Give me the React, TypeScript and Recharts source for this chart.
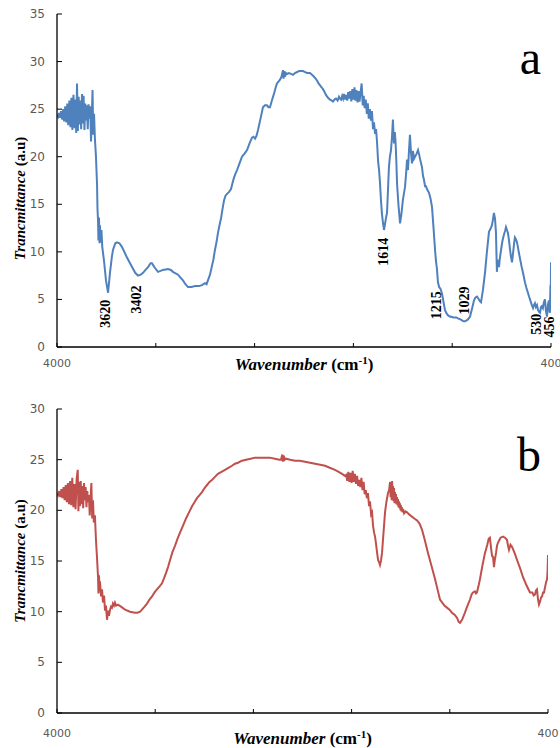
import React from 'react';
import { LineChart, Line, XAxis, YAxis, ReferenceDot } from 'recharts';

// FTIR spectra, [wavenumber, transmittance]
const spectrumA: [number, number][] = [
  [4000, 24.4], [3992, 24.2], [3985, 24.6], [3978, 24.1], [3970, 24.8], [3962, 23.9], [3955, 25.0], [3948, 23.7],
  [3940, 25.3], [3932, 23.6], [3925, 25.6], [3918, 23.3], [3910, 25.9], [3902, 23.1], [3895, 26.2], [3888, 22.8],
  [3880, 26.5], [3872, 23.0], [3865, 26.0], [3860, 22.5], [3854, 27.7], [3848, 22.7], [3842, 26.3], [3836, 23.4],
  [3830, 25.9], [3824, 22.9], [3818, 26.6], [3812, 23.5], [3806, 26.4], [3800, 22.8], [3794, 25.6], [3788, 23.8],
  [3782, 25.4], [3776, 22.9], [3770, 25.5], [3764, 24.0], [3758, 25.3], [3752, 21.6], [3746, 24.6], [3741, 27.0],
  [3736, 22.3], [3730, 24.5], [3724, 22.0], [3716, 20.0], [3708, 17.0], [3705, 14.5], [3701, 13.3], [3698, 11.2],
  [3694, 13.6], [3690, 10.9], [3687, 12.8], [3682, 11.0], [3676, 12.3], [3670, 10.5], [3657, 9.0], [3643, 7.0],
  [3628, 5.7], [3614, 7.8], [3600, 9.5], [3592, 10.2], [3575, 10.9], [3563, 11.0], [3545, 10.9], [3526, 10.5],
  [3490, 9.4], [3453, 8.4], [3430, 7.8], [3410, 7.5], [3390, 7.6], [3373, 7.8], [3355, 8.1], [3337, 8.4],
  [3318, 8.8], [3308, 8.8], [3295, 8.5], [3286, 8.3], [3264, 7.9], [3245, 8.0], [3228, 8.1], [3191, 8.2],
  [3170, 8.1], [3155, 7.9], [3118, 7.6], [3100, 7.3], [3082, 7.0], [3064, 6.6], [3045, 6.3], [3020, 6.3],
  [2994, 6.4], [2965, 6.4], [2943, 6.5], [2922, 6.7], [2910, 6.6], [2900, 7.0], [2885, 7.6], [2871, 8.5],
  [2860, 9.2], [2849, 10.2], [2838, 11.0], [2827, 12.0], [2816, 12.8], [2805, 13.5], [2794, 14.5], [2783, 15.4],
  [2772, 15.9], [2761, 16.1], [2746, 16.3], [2732, 16.6], [2720, 17.3], [2710, 17.8], [2700, 18.2], [2688, 18.6],
  [2670, 19.3], [2652, 20.0], [2635, 20.3], [2615, 20.7], [2597, 21.4], [2579, 22.0], [2568, 22.1], [2557, 21.9],
  [2546, 22.2], [2535, 22.8], [2517, 24.0], [2499, 25.2], [2485, 25.4], [2470, 25.4], [2459, 25.2], [2448, 25.2],
  [2434, 25.9], [2419, 26.6], [2408, 27.2], [2397, 27.7], [2386, 27.9], [2375, 28.1], [2364, 28.4], [2353, 29.1],
  [2349, 28.2], [2344, 29.0], [2338, 28.4], [2332, 28.8], [2324, 28.7], [2310, 28.8], [2295, 28.7], [2280, 28.6],
  [2266, 28.8], [2250, 28.9], [2237, 29.0], [2222, 29.0], [2207, 29.0], [2192, 28.9], [2178, 28.8], [2156, 28.8],
  [2140, 28.6], [2127, 28.4], [2115, 28.2], [2105, 28.0], [2094, 27.7], [2083, 27.5], [2072, 27.3], [2062, 27.1],
  [2050, 26.8], [2040, 26.5], [2025, 26.2], [2010, 26.0], [1998, 25.9], [1989, 25.8], [1978, 26.0], [1967, 26.1],
  [1955, 25.9], [1945, 26.3], [1938, 26.1], [1930, 26.0], [1922, 26.4], [1915, 26.1], [1908, 26.6], [1900, 26.0],
  [1892, 26.5], [1885, 25.9], [1878, 26.8], [1870, 26.1], [1862, 26.9], [1855, 25.8], [1848, 27.1], [1840, 26.0],
  [1832, 27.3], [1825, 25.9], [1818, 27.0], [1810, 25.7], [1802, 26.9], [1795, 25.8], [1788, 26.7], [1780, 27.7],
  [1772, 25.4], [1765, 26.4], [1758, 25.1], [1750, 26.0], [1742, 24.5], [1735, 25.6], [1728, 24.0], [1720, 25.0],
  [1712, 23.8], [1705, 24.8], [1697, 22.9], [1690, 23.6], [1682, 22.4], [1675, 22.9], [1668, 21.6], [1660, 19.5],
  [1653, 18.6], [1646, 17.2], [1639, 15.4], [1632, 14.0], [1624, 13.0], [1617, 12.3], [1610, 12.9], [1602, 13.6],
  [1595, 14.1], [1588, 16.5], [1581, 18.9], [1574, 20.0], [1566, 20.7], [1559, 22.0], [1552, 23.9], [1548, 22.4],
  [1544, 21.4], [1538, 22.6], [1533, 21.6], [1527, 19.5], [1522, 17.2], [1512, 15.0], [1500, 13.0], [1490, 14.0],
  [1479, 15.5], [1464, 16.8], [1455, 18.4], [1449, 19.7], [1442, 18.6], [1435, 20.6], [1428, 22.3], [1420, 20.4],
  [1413, 19.3], [1406, 20.6], [1398, 19.8], [1391, 20.0], [1380, 20.3], [1369, 20.7], [1362, 20.3], [1355, 19.8],
  [1340, 18.9], [1333, 18.0], [1326, 17.6], [1318, 16.9], [1311, 16.9], [1304, 16.6], [1289, 16.2], [1278, 15.6],
  [1267, 14.7], [1256, 12.5], [1245, 10.2], [1238, 9.0], [1231, 8.2], [1224, 6.8], [1215, 6.3], [1205, 6.1],
  [1194, 5.6], [1184, 4.8], [1173, 3.9], [1160, 3.5], [1148, 3.3], [1136, 3.2], [1110, 3.1], [1090, 3.1],
  [1078, 3.0], [1060, 2.9], [1049, 2.8], [1038, 2.7], [1027, 2.7], [1015, 2.8], [1005, 2.9], [990, 3.2],
  [976, 4.0], [961, 4.9], [950, 5.2], [939, 5.3], [930, 5.1], [925, 5.0], [917, 4.8], [910, 4.7],
  [896, 6.0], [881, 7.8], [867, 10.0], [852, 12.1], [842, 12.4], [830, 12.8], [822, 13.5], [816, 14.1],
  [808, 13.5], [801, 12.0], [797, 9.5], [794, 7.9], [790, 9.2], [787, 8.6], [783, 9.0], [779, 8.4],
  [773, 9.3], [768, 9.8], [757, 10.9], [750, 11.4], [743, 11.8], [735, 12.2], [728, 12.6], [721, 12.3],
  [714, 12.0], [706, 11.2], [699, 10.3], [692, 9.5], [684, 8.9], [674, 10.2], [668, 11.0], [663, 11.5],
  [655, 11.3], [648, 11.0], [641, 10.5], [634, 9.9], [626, 9.3], [615, 8.5], [604, 7.8], [597, 7.3],
  [590, 6.8], [579, 6.2], [568, 5.7], [560, 5.3], [553, 5.0], [542, 4.5], [531, 4.1], [524, 4.4],
  [517, 4.6], [510, 4.2], [502, 4.4], [495, 3.9], [487, 3.7], [480, 3.6], [473, 4.2], [466, 4.3],
  [459, 4.1], [452, 4.7], [444, 5.0], [437, 3.8], [429, 3.2], [422, 4.5], [415, 4.9], [411, 3.8],
  [408, 3.6], [404, 6.5], [402, 5.2], [400, 8.9],
];

const spectrumB: [number, number][] = [
  [4000, 21.7], [3992, 21.5], [3984, 21.9], [3976, 21.3], [3968, 22.1], [3960, 21.2], [3952, 22.3], [3944, 21.0],
  [3936, 22.5], [3928, 20.8], [3920, 22.7], [3912, 20.6], [3904, 22.9], [3896, 20.5], [3888, 23.2], [3880, 20.3],
  [3872, 22.6], [3864, 20.1], [3856, 23.1], [3848, 24.0], [3843, 19.9], [3838, 22.8], [3832, 20.4], [3826, 22.9],
  [3820, 20.6], [3814, 22.4], [3808, 20.2], [3802, 22.7], [3796, 21.0], [3790, 22.3], [3784, 20.3], [3778, 21.9],
  [3772, 20.8], [3766, 21.5], [3760, 19.5], [3754, 21.2], [3748, 22.7], [3742, 19.2], [3736, 21.0], [3730, 18.8],
  [3722, 19.5], [3714, 17.0], [3707, 15.4], [3699, 13.4], [3696, 11.8], [3692, 13.6], [3688, 12.0], [3685, 13.0],
  [3677, 11.5], [3670, 12.2], [3663, 10.9], [3655, 11.6], [3648, 10.1], [3641, 10.6], [3633, 9.2], [3626, 10.1],
  [3619, 9.6], [3611, 10.2], [3604, 10.5], [3597, 10.4], [3590, 10.8], [3582, 10.6], [3575, 10.9], [3567, 10.6],
  [3553, 10.7], [3531, 10.5], [3501, 10.2], [3465, 10.0], [3428, 9.9], [3410, 9.9], [3391, 10.0], [3377, 10.2],
  [3358, 10.5], [3340, 10.8], [3322, 11.2], [3303, 11.5], [3285, 11.9], [3267, 12.2], [3248, 12.5], [3230, 12.8],
  [3215, 13.3], [3201, 13.8], [3186, 14.4], [3171, 15.1], [3153, 15.9], [3135, 16.5], [3116, 17.2], [3098, 17.8],
  [3076, 18.5], [3054, 19.2], [3032, 19.8], [3010, 20.4], [2992, 20.8], [2974, 21.2], [2955, 21.5], [2937, 21.8],
  [2918, 22.2], [2900, 22.5], [2882, 22.8], [2864, 23.0], [2842, 23.3], [2820, 23.6], [2794, 23.8], [2768, 24.0],
  [2743, 24.2], [2717, 24.4], [2695, 24.6], [2673, 24.7], [2644, 24.9], [2614, 25.0], [2580, 25.1], [2548, 25.2],
  [2510, 25.2], [2475, 25.2], [2440, 25.2], [2402, 25.1], [2370, 25.0], [2358, 25.0], [2348, 25.5], [2343, 24.8],
  [2338, 25.4], [2330, 25.0], [2321, 25.1], [2290, 25.0], [2255, 24.9], [2220, 24.9], [2182, 24.8], [2145, 24.7],
  [2108, 24.6], [2070, 24.5], [2035, 24.4], [2000, 24.2], [1962, 24.0], [1935, 23.8], [1910, 23.6], [1888, 23.4],
  [1880, 23.5], [1872, 22.9], [1864, 23.8], [1856, 22.8], [1848, 23.7], [1840, 22.7], [1832, 23.9], [1824, 22.8],
  [1816, 23.6], [1808, 22.6], [1800, 23.4], [1792, 22.4], [1784, 23.0], [1776, 22.3], [1768, 23.2], [1760, 22.0],
  [1752, 22.8], [1744, 21.6], [1736, 22.0], [1728, 21.2], [1720, 21.7], [1712, 20.4], [1705, 20.9], [1697, 19.6],
  [1690, 19.8], [1683, 18.5], [1675, 17.8], [1668, 17.4], [1660, 16.6], [1653, 15.8], [1646, 15.1], [1639, 14.9],
  [1632, 14.6], [1625, 15.0], [1617, 15.8], [1606, 17.8], [1595, 19.8], [1584, 20.9], [1573, 21.7], [1565, 22.0],
  [1558, 22.8], [1554, 21.3], [1550, 22.6], [1546, 21.0], [1543, 22.9], [1539, 21.2], [1536, 22.4], [1532, 20.9],
  [1529, 22.2], [1525, 20.7], [1522, 21.8], [1518, 20.8], [1515, 21.6], [1511, 20.6], [1507, 21.3], [1503, 20.5],
  [1500, 21.1], [1496, 20.3], [1492, 20.9], [1488, 20.2], [1485, 20.7], [1481, 20.0], [1478, 20.5], [1474, 19.9],
  [1470, 20.3], [1466, 19.8], [1462, 20.1], [1455, 19.7], [1445, 19.9], [1434, 19.8], [1418, 19.6], [1400, 19.4],
  [1380, 19.2], [1360, 19.0], [1342, 18.7], [1324, 18.1], [1302, 17.0], [1280, 15.8], [1254, 14.5], [1228, 13.2],
  [1210, 12.2], [1192, 11.2], [1170, 10.8], [1160, 10.6], [1141, 10.4], [1122, 10.2], [1104, 9.9], [1085, 9.7],
  [1067, 9.4], [1055, 9.0], [1045, 8.9], [1030, 9.2], [1009, 9.9], [990, 10.6], [972, 11.2], [960, 11.7],
  [950, 11.9], [936, 12.0], [928, 11.8], [921, 11.9], [910, 12.5], [899, 13.2], [880, 14.6], [862, 15.8],
  [845, 16.6], [835, 17.2], [826, 17.3], [820, 16.6], [815, 16.0], [810, 15.5], [803, 15.4], [796, 14.4],
  [790, 15.1], [781, 15.8], [774, 16.5], [767, 16.8], [748, 17.3], [730, 17.4], [715, 17.3], [701, 17.1],
  [693, 16.5], [686, 16.1], [675, 16.6], [664, 16.4], [645, 15.8], [627, 15.1], [605, 14.3], [583, 13.4],
  [558, 12.6], [532, 11.9], [515, 11.9], [505, 11.6], [495, 11.7], [488, 12.1], [481, 12.2], [473, 11.2],
  [466, 10.7], [458, 11.0], [451, 11.4], [444, 11.5], [436, 11.9], [429, 11.9], [422, 12.4], [414, 12.9],
  [407, 13.2], [403, 14.0], [400, 15.6],
];

const xTicks = [4000, 3280, 2560, 1840, 1120, 400];
const xTickLabels = [4000, 400];
const yTicksA = [0, 5, 10, 15, 20, 25, 30, 35];
const yTicksB = [0, 5, 10, 15, 20, 25, 30];

// peak labels in panel a (where the rotated text sits)
const peakLabels = ['3620', '3402', '1614', '1215', '1029', '530', '456'];
const peakLabelX = [3643, 3417, 1620, 1231, 1030, 502, 408];
const peakLabelY = [3.5, 5.0, 10.0, 4.4, 4.9, 2.4, 2.1];

const toRows = (s: [number, number][]) => s.map(([w, v]) => ({ w, v }));

const tickFont = '"DejaVu Sans", Verdana, sans-serif';
const serif = '"Liberation Serif", "Times New Roman", serif';

type PanelProps = {
  data: { w: number; v: number }[];
  color: string;
  yMax: number;
  yTicks: number[];
  height: number;
  top: number;
  rightMargin: number;
  xAxisHeight: number;
  xLabelGap: number;
  xTitleGap: number;
  yTitleShift: number;
  letter: string;
  letterTop: number;
  peaks?: boolean;
};

const Panel = ({ data, color, yMax, yTicks, height, top, rightMargin, xAxisHeight, xLabelGap, xTitleGap, yTitleShift, letter, letterTop, peaks }: PanelProps) => {
  const xTick = (p: any) => (
    <g>
      <line x1={p.x} x2={p.x} y1={p.y} y2={p.y - 4} stroke="#000" strokeWidth={1} />
      {xTickLabels.includes(p.payload.value) && (
        <text x={p.x} y={p.y + xLabelGap} textAnchor="middle" dominantBaseline="central" fill="#595959" fontSize={11} fontFamily={tickFont}>
          {p.payload.value}
        </text>
      )}
    </g>
  );
  const yTick = (p: any) => (
    <g>
      <line x1={p.x + 12} x2={p.x + 17} y1={p.y} y2={p.y} stroke="#000" strokeWidth={1} />
      <text x={p.x} y={p.y} textAnchor="end" dominantBaseline="central" fill="#595959" fontSize={12} fontFamily={tickFont}>
        {p.payload.value}
      </text>
    </g>
  );
  const xTitle = (p: any) => {
    const vb = p.viewBox;
    return (
      <text x={vb.x + vb.width / 2} y={vb.y + xTitleGap} textAnchor="middle" fontFamily={serif} fontWeight="bold" fontSize={17} fill="#000">
        <tspan fontStyle="italic">Wavenumber</tspan>
        <tspan> (cm</tspan>
        <tspan dy={-6} fontSize={11}>-1</tspan>
        <tspan dy={6}>)</tspan>
      </text>
    );
  };
  const yTitle = (p: any) => {
    const vb = p.viewBox;
    const cx = 20;
    const cy = vb.y + vb.height / 2 + yTitleShift;
    return (
      <text x={cx} y={cy} transform={`rotate(-90 ${cx} ${cy})`} textAnchor="middle" dominantBaseline="central" fontFamily={serif} fontWeight="bold" fontSize={15} fill="#000">
        <tspan fontStyle="italic">Trancmittance</tspan>
        <tspan> (a.u)</tspan>
      </text>
    );
  };

  return (
    <div style={{ position: 'absolute', left: 0, top, width: 560, height }}>
      <LineChart width={560} height={height} data={data} margin={{ top: 14, right: rightMargin, left: 0, bottom: 0 }}>
        <XAxis
          dataKey="w"
          type="number"
          domain={[400, 4000]}
          reversed
          allowDataOverflow
          ticks={xTicks}
          interval={0}
          height={xAxisHeight}
          tickSize={0}
          tickMargin={0}
          tickLine={false}
          axisLine={{ stroke: '#000', strokeWidth: 1.3 }}
          tick={xTick}
          label={xTitle}
        />
        <YAxis
          type="number"
          domain={[0, yMax]}
          ticks={yTicks}
          interval={0}
          width={57}
          tickSize={0}
          tickMargin={12}
          tickLine={false}
          axisLine={{ stroke: '#000', strokeWidth: 1.3 }}
          tick={yTick}
          label={yTitle}
        />
        <Line dataKey="v" type="linear" stroke={color} strokeWidth={2} dot={false} activeDot={false} isAnimationActive={false} />
        {peaks &&
          peakLabels.map((lab, i) => (
            <ReferenceDot
              key={lab}
              x={peakLabelX[i]}
              y={peakLabelY[i]}
              r={0}
              ifOverflow="visible"
              shape={(p: any) => (
                <text x={p.cx} y={p.cy} transform={`rotate(-90 ${p.cx} ${p.cy})`} textAnchor="middle" dominantBaseline="central" fontFamily={serif} fontWeight="bold" fontSize={14} fill="#000">
                  {lab}
                </text>
              )}
            />
          ))}
      </LineChart>
      <div style={{ position: 'absolute', right: 19, top: letterTop, fontFamily: serif, fontSize: 48, lineHeight: '48px', color: '#000' }}>{letter}</div>
    </div>
  );
};

export default function App() {
  return (
    <div style={{ position: 'absolute', left: 0, top: 0, width: 560, height: 748, background: '#fff', overflow: 'hidden' }}>
      <Panel
        data={toRows(spectrumA)}
        color="#4F81BD"
        yMax={35}
        yTicks={yTicksA}
        height={380}
        top={0}
        rightMargin={9}
        xAxisHeight={33}
        xLabelGap={16}
        xTitleGap={23}
        yTitleShift={18}
        letter="a"
        letterTop={34}
        peaks
      />
      <Panel
        data={toRows(spectrumB)}
        color="#C0504D"
        yMax={30}
        yTicks={yTicksB}
        height={353}
        top={395}
        rightMargin={12}
        xAxisHeight={35}
        xLabelGap={20}
        xTitleGap={31}
        yTitleShift={0}
        letter="b"
        letterTop={36}
      />
    </div>
  );
}
